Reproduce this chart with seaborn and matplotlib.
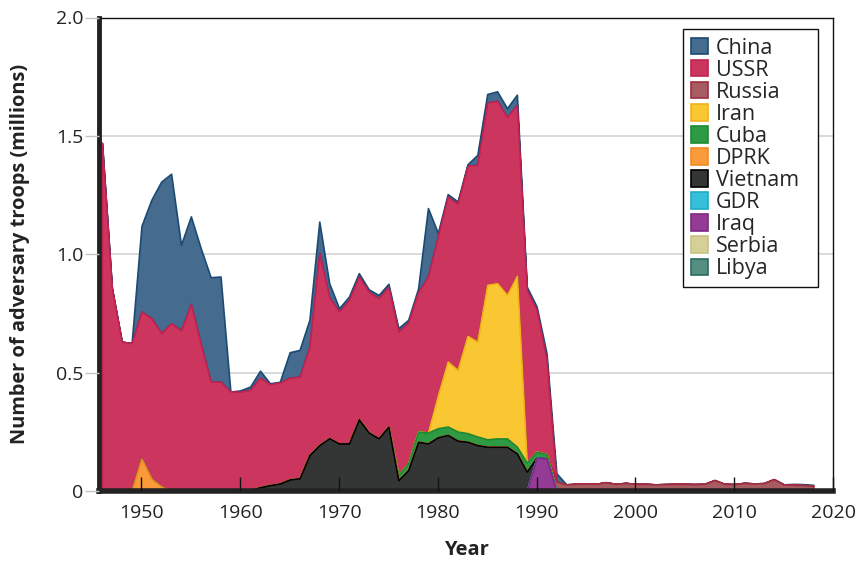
import matplotlib
matplotlib.use("Agg")
import matplotlib.pyplot as plt
from matplotlib.patches import Patch
import seaborn as sns
import numpy as np

sns.set_theme(style="white")
plt.rcParams['font.family'] = ['Open Sans', 'DejaVu Sans']

years = list(range(1946, 2019))

def pad(d):
    # d maps year -> value, missing years are 0
    return [d.get(y, 0.0) for y in years]

china = pad({1950: .362, 1951: .50, 1952: .64, 1953: .631, 1954: .362, 1955: .37,
             1956: .405, 1957: .441, 1958: .444, 1960: .005, 1961: .014, 1962: .029,
             1963: .004, 1964: .003, 1965: .107, 1966: .114, 1967: .113, 1968: .133,
             1969: .058, 1970: .014, 1971: .014, 1972: .014, 1973: .01, 1974: .014,
             1975: .012, 1976: .015, 1977: .012, 1978: .015, 1979: .289, 1980: .015,
             1981: .01, 1982: .01, 1983: .006, 1984: .042, 1985: .036, 1986: .04,
             1987: .038, 1988: .043, 1989: .013, 1990: .014, 1991: .028, 1992: .035,
             2016: .004, 2017: .004, 2018: .004})
ussr = pad({1946: 1.47, 1947: .857, 1948: .631, 1949: .624, 1950: .623, 1951: .68,
            1952: .649, 1953: .709, 1954: .678, 1955: .79, 1956: .62, 1957: .462,
            1958: .462, 1959: .42, 1960: .42, 1961: .422, 1962: .463, 1963: .426,
            1964: .426, 1965: .43, 1966: .428, 1967: .458, 1968: .811, 1969: .597,
            1970: .557, 1971: .606, 1972: .603, 1973: .595, 1974: .591, 1975: .591,
            1976: .605, 1977: .594, 1978: .589, 1979: .659, 1980: .672, 1981: .697,
            1982: .702, 1983: .719, 1984: .747, 1985: .77, 1986: .77, 1987: .751,
            1988: .722, 1989: .73, 1990: .599, 1991: .398})
russia = pad({1992: .04, 1993: .028, 1994: .03, 1995: .032, 1996: .03, 1997: .037,
              1998: .03, 1999: .03, 2000: .03, 2001: .03, 2002: .028, 2003: .029,
              2004: .03, 2005: .03, 2006: .029, 2007: .03, 2008: .046, 2009: .03,
              2010: .029, 2011: .032, 2012: .032, 2013: .033, 2014: .05, 2015: .028,
              2016: .026, 2017: .025, 2018: .022})
iran = pad({1980: .138, 1981: .275, 1982: .26, 1983: .411, 1984: .401, 1985: .653,
            1986: .656, 1987: .606, 1988: .722})
cuba = pad({1976: .022, 1977: .028, 1978: .043, 1979: .046, 1980: .038, 1981: .035,
            1982: .038, 1983: .036, 1984: .036, 1985: .031, 1986: .035, 1987: .035,
            1988: .028, 1989: .038, 1990: .024, 1991: .018})
dprk = pad({1950: .135, 1951: .05, 1952: .018})
vietnam = pad({1961: .005, 1962: .016, 1963: .025, 1964: .032, 1965: .049, 1966: .054,
               1967: .152, 1968: .194, 1969: .223, 1970: .201, 1971: .201, 1972: .303,
               1973: .247, 1974: .223, 1975: .272, 1976: .046, 1977: .089, 1978: .208,
               1979: .201, 1980: .227, 1981: .237, 1982: .213, 1983: .208, 1984: .194,
               1985: .187, 1986: .187, 1987: .187, 1988: .159, 1989: .082, 1990: .002})
gdr = pad({})
iraq = pad({1990: .14, 1991: .138})
serbia = pad({1999: .004})
libya = pad({2011: .002})

names = ["China", "USSR", "Russia", "Iran", "Cuba", "DPRK", "Vietnam",
         "GDR", "Iraq", "Serbia", "Libya"]
series = [china, ussr, russia, iran, cuba, dprk, vietnam, gdr, iraq, serbia, libya]
faces = ["#456b8f", "#cc365e", "#a75c62", "#f9c731", "#2f9a44", "#f99b3a",
         "#333634", "#35bfd8", "#943b96", "#d5cf98", "#578e83"]
edges = ["#1b4a74", "#c32150", "#9c2f42", "#f2b21c", "#1d8a33", "#f48b25",
         "#000000", "#20aac8", "#7e2a82", "#c9c184", "#2b6c5f"]

fig = plt.figure(figsize=(8.56, 5.65), dpi=100)
ax = fig.add_axes([99 / 856, 74 / 565, 734 / 856, 473.5 / 565])
ax.set_axisbelow(False)  # tick marks drawn over the areas

# stack from bottom (Libya) to top (China); lower layers drawn last so
# their outlines win where an upper layer is empty
polys = ax.stackplot(years, *series[::-1], colors=faces[::-1], linewidth=1.2)
n = len(polys)
for i, (p, ec) in enumerate(zip(polys, edges[::-1])):
    p.set_edgecolor(ec)
    p.set_zorder(1 + (n - i) * 0.1)

ax.set_xlim(1945.7, 2020)
ax.set_ylim(0, 2.0)
ax.set_xticks(range(1950, 2021, 10))
ax.set_yticks([0, 0.5, 1.0, 1.5, 2.0])
ax.set_yticklabels(["0", "0.5", "1.0", "1.5", "2.0"])
for g in [0.5, 1.0, 1.5]:
    ax.axhline(g, color="#d3d3d3", lw=1.2, zorder=0.5)

ax.tick_params(axis="x", bottom=True, direction="in", length=10, width=1,
               color="#111111", labelsize=14, pad=9, labelcolor="#222222")
ax.tick_params(axis="y", left=True, direction="out", length=10, width=1,
               color="#c4c4c4", labelsize=14, pad=1, labelcolor="#222222")

for side in ["top", "right"]:
    ax.spines[side].set_color("#111111")
    ax.spines[side].set_linewidth(1.0)
ax.spines["left"].set_color("#222222")
ax.spines["left"].set_linewidth(3.5)
ax.spines["bottom"].set_color("#222222")
ax.spines["bottom"].set_linewidth(4)

ax.set_xlabel("Year", fontsize=14.5, fontweight="bold", labelpad=13, color="#222222")
ax.set_ylabel("Number of adversary troops (millions)", fontsize=14.4,
              fontweight="bold", labelpad=19, color="#222222")

handles = [Patch(facecolor=f, edgecolor=e, linewidth=1.2) for f, e in zip(faces, edges)]
leg = ax.legend(handles, names, loc="upper right",
                bbox_to_anchor=(0.7956, 0.5, 0.1839, 0.475), mode="expand",
                borderaxespad=0, fontsize=15.5, frameon=True, fancybox=False,
                framealpha=1, edgecolor="#111111", handlelength=0.8,
                handleheight=0.8, labelspacing=0.05, handletextpad=0.35,
                borderpad=0.38)
leg.get_frame().set_linewidth(1.0)
leg.set_zorder(30)

fig.savefig("out.png", dpi=100)
